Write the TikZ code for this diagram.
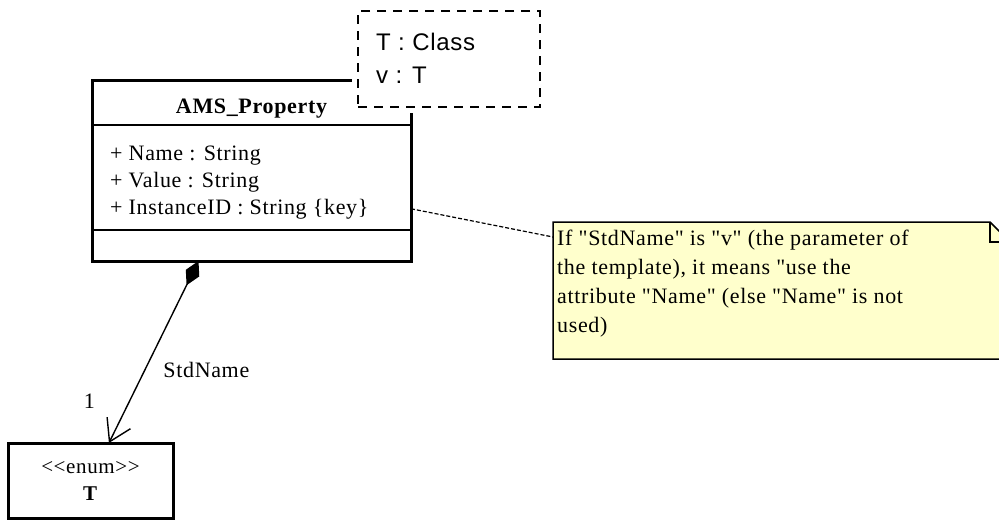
\documentclass[tikz,border=0pt]{standalone}
\usepackage{fontspec}
\setmainfont{Liberation Serif}[LetterSpace=3,Ligatures=TeXOff]
\newfontfamily\tplfont{Liberation Sans}[LetterSpace=3]
\usetikzlibrary{calc,arrows.meta}

\definecolor{notebg}{RGB}{255,255,204}

\begin{document}
\begin{tikzpicture}[x=1pt,y=-1pt,
	umltext/.style={inner sep=0pt,font=\fontsize{22}{27}\selectfont},
	classbox/.style={draw,line width=3pt,inner sep=0pt,outer sep=0pt},
	tplbox/.style={draw,line width=1.5pt,dash pattern=on 9pt off 7pt,fill=white,inner sep=0pt,
		preaction={draw=white,solid,line width=12pt}},
	notelink/.style={line width=1.2pt,dash pattern=on 4pt off 2pt},
	comp/.style={line width=1.4pt,{Diamond[length=27pt,width=15pt]}-{Straight Barb[length=21pt,width=26pt,line width=1.4pt]}}]
	\pgfmathsetmacro{\rowh}{27}			%distance between attribute rows
	\pgfmathsetmacro{\attrx}{110}		%left edge of the attributes
	\pgfmathsetmacro{\fold}{20}			%size of the folded note corner

	\useasboundingbox (0,0) rectangle (999,520);

	%class
	\node[classbox,minimum width=319pt,minimum height=181pt] (cls) at (251.5,170.5) {};
	\draw[line width=1.5pt] ($(cls.north west)+(0,45)$) -- ($(cls.north east)+(0,45)$);
	\draw[line width=1.5pt] ($(cls.north west)+(0,150)$) -- ($(cls.north east)+(0,150)$);
	\node[umltext,font=\bfseries\fontsize{22}{27}\selectfont,anchor=base] (clsname) at (251.5,113) {AMS\_Property};
	\node[umltext,anchor=base west] (attr1) at (\attrx,160) {+ Name : String};
	\node[umltext,anchor=base west] (attr2) at (\attrx,160+\rowh) {+ Value : String};
	\node[umltext,anchor=base west] (attr3) at (\attrx,160+2*\rowh) {+ InstanceID : String \{key\}};

	%template parameters
	\node[tplbox,minimum width=182pt,minimum height=96pt] (tpl) at (449,59) {};
	\node[inner sep=0pt,anchor=base west,font=\tplfont\fontsize{24}{32}\selectfont] (tplT) at (376,50) {T : Class};
	\node[inner sep=0pt,anchor=base west,font=\tplfont\fontsize{24}{32}\selectfont] (tplv) at (376,83) {v : T};

	%note
	\node[minimum width=457pt,minimum height=137pt,anchor=north west,inner sep=0pt,outer sep=0pt] (note) at (553,222) {};
	\filldraw[fill=notebg,line width=1.5pt] (note.north west) -- ($(note.north east)+(-\fold,0)$) -- ($(note.north east)+(0,\fold)$)
		-- (note.south east) -- (note.south west) -- cycle;
	\draw[line width=1.5pt] ($(note.north east)+(-\fold,0)$) |- ($(note.north east)+(0,\fold)$);
	\node[umltext,anchor=north west,align=left,font=\fontsize{22}{29}\selectfont] (notetext) at (557,230)
		{If "StdName" is "v" (the parameter of\\the template), it means "use the\\attribute "Name" (else "Name" is not\\used)};
	\draw[notelink] (cls.east |- attr3) -- ($(note.north west)+(0,15)$);

	%enumeration
	\node[classbox,minimum width=165pt,minimum height=75pt,align=center,font=\fontsize{21}{27}\selectfont] (enum) at (90.5,480.5)
		{<<enum>>\\\textbf{T}};
	\draw[comp] ($(cls.south)+(-53,0)$) -- node[pos=0.6,anchor=west,xshift=18pt,umltext] (role) {StdName}
		node[pos=0.77,anchor=east,xshift=-34pt,umltext] (mult) {1} (enum);

\end{tikzpicture}
\end{document}
